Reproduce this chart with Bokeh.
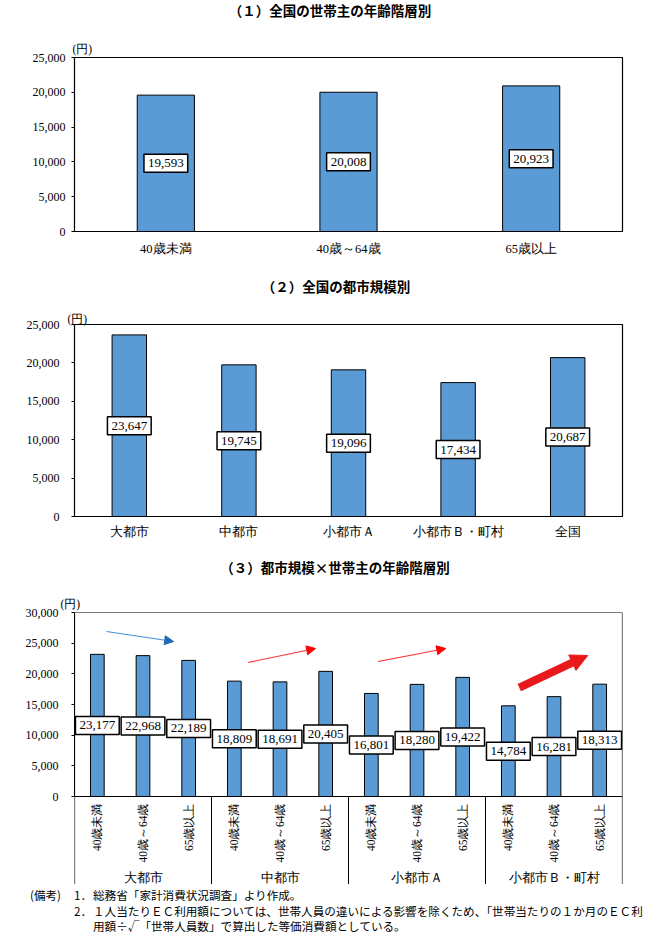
import math
from bokeh.plotting import figure
from bokeh.models import (Label, FactorRange, Range1d, Arrow, NormalHead,
                          NumeralTickFormatter, FixedTicker, Div)
from bokeh.layouts import column
from bokeh.embed import file_html
from bokeh.resources import INLINE
from bokeh.core.properties import value

# ---------------- data ----------------
titles = ["（１）全国の世帯主の年齢階層別", "（２）全国の都市規模別", "（３）都市規模×世帯主の年齢階層別"]
age_groups = ["40歳未満", "40歳～64歳", "65歳以上"]
age_values = [19593, 20008, 20923]
city_sizes = ["大都市", "中都市", "小都市Ａ", "小都市Ｂ・町村", "全国"]
city_values = [23647, 19745, 19096, 17434, 20687]
cross_groups = ["大都市", "中都市", "小都市Ａ", "小都市Ｂ・町村"]
big_city = [23177, 22968, 22189]
mid_city = [18809, 18691, 20405]
small_city_a = [16801, 18280, 19422]
small_city_b = [14784, 16281, 18313]
y_ticks_25k = [0, 5000, 10000, 15000, 20000, 25000]
y_ticks_30k = [0, 5000, 10000, 15000, 20000, 25000, 30000]
unit_label = "(円)"
notes_head = "(備考)"
note_numbers = ["1．", "2．", ""]
note_lines = ["総務省「家計消費状況調査」より作成。",
              "１人当たりＥＣ利用額については、世帯人員の違いによる影響を除くため、「世帯当たりの１か月のＥＣ利",
              "用額÷√「世帯人員数」で算出した等価消費額としている。"]
# trend arrows in chart 3 (x in bar slots, y in yen)
arrow_x_start = [0.70, 3.80, 6.65, 9.74]
arrow_x_end = [2.17, 5.28, 8.13, 11.24]
arrow_y_start = [26900, 21850, 22010, 17770]
arrow_y_end = [25270, 24130, 24130, 22990]

# ---------------- styles ----------------
SERIF = "Liberation Serif"
SANS = "Noto Sans CJK JP"
BAR = "#5B9BD5"
W = 648


def style_y(p, ticks, standoff):
    ax = p.yaxis[0]
    ax.ticker = FixedTicker(ticks=ticks)
    ax.formatter = NumeralTickFormatter(format="0,0")
    ax.major_tick_in = 0
    ax.major_tick_out = 3
    ax.minor_tick_line_color = None
    ax.axis_line_color = "black"
    ax.major_tick_line_color = "black"
    ax.major_label_text_font = SERIF
    ax.major_label_text_font_size = "12px"
    ax.major_label_text_color = "black"
    ax.major_label_standoff = standoff


def base(x_range, y_range, height, bl, br, bt, bb, unit_offset, unit_standoff):
    p = figure(x_range=x_range, y_range=y_range, width=W, height=height,
               output_backend="svg", toolbar_location=None,
               min_border_left=bl, min_border_right=br,
               min_border_top=bt, min_border_bottom=bb)
    p.xgrid.grid_line_color = None
    p.ygrid.grid_line_color = None
    p.outline_line_color = "black"
    p.outline_line_width = 1.2
    p.background_fill_color = "white"
    p.border_fill_color = "white"
    p.title.text = unit_label
    p.title.align = "left"
    p.title.vertical_align = "bottom"
    p.title.offset = unit_offset
    p.title.standoff = unit_standoff
    p.title.text_font = SERIF
    p.title.text_font_size = "11.5px"
    p.title.text_font_style = "normal"
    p.title.text_color = "black"
    return p


def style_x(p, standoff):
    ax = p.xaxis[0]
    ax.major_tick_line_color = None
    ax.minor_tick_line_color = None
    ax.axis_line_color = "black"
    ax.major_label_text_font = SERIF
    ax.major_label_text_font_size = "12.5px"
    ax.major_label_text_color = "black"
    ax.major_label_standoff = standoff


def value_box(p, x, v):
    p.add_layout(Label(x=x, y=v / 2, text=f"{v:,}", text_align="center",
                       text_baseline="middle", text_font=SERIF,
                       text_font_size="13px", text_color="black",
                       background_fill_color="white", border_line_color="black",
                       border_line_width=1.5, padding=(4, 5)))


def title_div(text, height, pad_top, center_x):
    left = center_x - 200
    html = (f'<div style="position:relative;width:{W}px;height:{height}px;">'
            f'<div style="position:absolute;left:{left}px;top:{pad_top}px;width:400px;'
            f'text-align:center;font-family:\'{SANS}\';font-weight:bold;font-size:13.5px;'
            f'line-height:16px;white-space:nowrap;color:#000;">{text}</div></div>')
    return Div(text=html, width=W, height=height, margin=0)


# ---------------- chart 1 ----------------
p1 = base(age_groups, Range1d(0, 25000), 244, 71, W - 622, 35, 35, -2, 6)
p1.vbar(x=age_groups, top=age_values, width=0.313, fill_color=BAR,
        line_color="black", line_width=1)
style_y(p1, y_ticks_25k, 6)
style_x(p1, 4)
for i, v in enumerate(age_values):
    value_box(p1, i + 0.5, v)

# ---------------- chart 2 ----------------
p2 = base(city_sizes, Range1d(0, 25000), 246, 69, W - 626, 24, 30, -7, 0)
p2.vbar(x=city_sizes, top=city_values, width=0.314, fill_color=BAR,
        line_color="black", line_width=1)
style_y(p2, y_ticks_25k, 12)
style_x(p2, 2)
for i, v in enumerate(city_values):
    value_box(p2, i + 0.5, v)

# ---------------- chart 3 ----------------
cross_values = big_city + mid_city + small_city_a + small_city_b
factors = [(g, a) for g in cross_groups for a in age_groups]
n = len(factors)
y3_top = 30000
y3_bottom = -y3_top * 88 / 184   # category label area below the axis
x3 = FactorRange(factors=factors, group_padding=0, subgroup_padding=0,
                 factor_padding=0, range_padding=0)
p3 = base(x3, Range1d(y3_bottom, y3_top), 306, 74, W - 626, 34, 0, -14, 6)
p3.outline_line_color = None
p3.xaxis.visible = False
p3.vbar(x=factors, top=cross_values, width=0.30, fill_color=BAR,
        line_color="black", line_width=1)
style_y(p3, y_ticks_30k, 13)
p3.yaxis[0].bounds = (0, y3_top)

# frame box, axis line and group separators
box_x0 = [0, n, 0, 0]
box_x1 = [0, n, n, n]
box_y0 = [y3_bottom, y3_bottom, y3_top, 0]
box_y1 = [y3_top, y3_top, y3_top, 0]
p3.segment(x0=box_x0, y0=box_y0, x1=box_x1, y1=box_y1, line_color="black", line_width=1.2)
sep = [len(age_groups) * k for k in range(1, len(cross_groups))]
p3.segment(x0=sep, y0=[0] * len(sep), x1=sep, y1=[y3_bottom] * len(sep),
           line_color="black", line_width=1)

p3.text(x=factors, y=[0] * n, text=[a for _, a in factors], angle=math.pi / 2,
        text_align="right", text_baseline="middle", y_offset=7,
        text_font=value(SERIF), text_font_size=value("11.5px"), text_color="black")
p3.text(x=[(g, age_groups[1]) for g in cross_groups], y=[0] * len(cross_groups),
        text=cross_groups, text_align="center", text_baseline="middle", y_offset=81,
        text_font=value(SERIF), text_font_size=value("12.5px"), text_color="black")

for i, v in enumerate(cross_values):
    value_box(p3, i + 0.5, v)

arrow_styles = [
    dict(line_color="#4A90D9", line_width=1.2, head=dict(size=9, fill_color="#1F6BB5", line_color="#1F6BB5")),
    dict(line_color="#FF3030", line_width=1.2, head=dict(size=9, fill_color="#FF0000", line_color="#FF0000")),
    dict(line_color="#FF3030", line_width=1.2, head=dict(size=9, fill_color="#FF0000", line_color="#FF0000")),
    dict(line_color="#E8191B", line_width=8, head=dict(size=17, fill_color="#E8191B", line_color="#E8191B")),
]
for xs, ys, xe, ye, st in zip(arrow_x_start, arrow_y_start, arrow_x_end, arrow_y_end, arrow_styles):
    p3.add_layout(Arrow(end=NormalHead(**st["head"]), x_start=xs, y_start=ys,
                        x_end=xe, y_end=ye, line_color=st["line_color"],
                        line_width=st["line_width"]))

# ---------------- titles and notes ----------------
t1 = title_div(titles[0], 22, 2, 330)
t2 = title_div(titles[1], 34, 12, 336)
t3 = title_div(titles[2], 32, 13, 335)

rows = []
for k, (num, line) in enumerate(zip(note_numbers, note_lines)):
    top = 4 + 15.5 * k
    if k == 0:
        rows.append(f'<span style="position:absolute;left:30px;top:{top}px;">{notes_head}</span>')
    if num:
        rows.append(f'<span style="position:absolute;left:74px;top:{top}px;">{num}</span>')
    rows.append(f'<span style="position:absolute;left:93px;top:{top}px;">{line}</span>')
notes_html = (f'<div style="position:relative;width:{W}px;height:48px;font-family:\'{SANS}\';'
              f'font-size:11.6px;line-height:15px;white-space:nowrap;color:#000;">'
              + "".join(rows) + '</div>')
notes = Div(text=notes_html, width=W, height=48, margin=0)

layout = column(t1, p1, t2, p2, t3, p3, notes, spacing=0)
open("out.html", "w").write(file_html(layout, INLINE))
